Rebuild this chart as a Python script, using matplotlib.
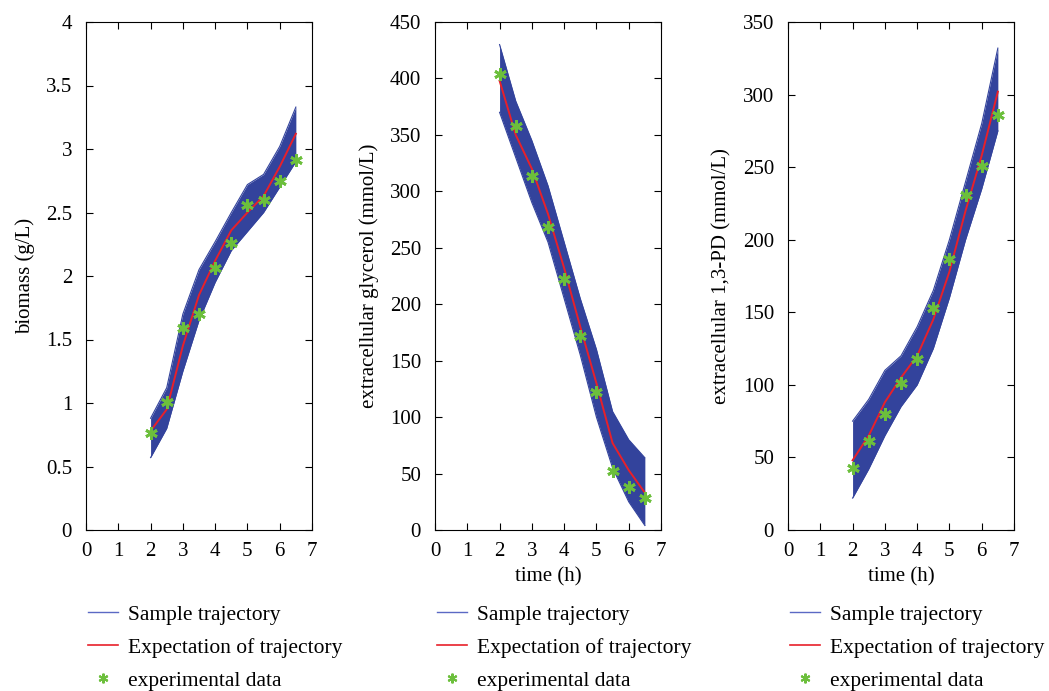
import numpy as np
import matplotlib
matplotlib.use("Agg")
import matplotlib.pyplot as plt
from matplotlib.lines import Line2D

plt.rcParams["font.family"] = ["Liberation Serif", "DejaVu Serif"]
plt.rcParams["font.size"] = 15

t = [2, 2.5, 3, 3.5, 4, 4.5, 5, 5.5, 6, 6.5]

# biomass (g/L)
bio_exp = [0.76, 1.01, 1.59, 1.70, 2.06, 2.26, 2.56, 2.60, 2.75, 2.91]
bio_mean = [0.78, 0.95, 1.45, 1.85, 2.12, 2.36, 2.50, 2.63, 2.86, 3.12]
bio_lo = [0.57, 0.80, 1.25, 1.65, 1.95, 2.20, 2.35, 2.50, 2.70, 2.90]
bio_hi = [0.88, 1.12, 1.70, 2.05, 2.27, 2.50, 2.72, 2.80, 3.02, 3.33]

# extracellular glycerol (mmol/L)
gly_exp = [404, 358, 314, 268, 222, 172, 122, 52, 38, 28]
gly_mean = [398, 350, 320, 280, 232, 180, 130, 77, 53, 33]
gly_lo = [370, 330, 290, 255, 205, 155, 100, 55, 25, 4]
gly_hi = [430, 380, 345, 305, 255, 205, 160, 105, 80, 64]

# extracellular 1,3-PD (mmol/L)
pd_exp = [43, 61, 80, 101, 118, 153, 187, 231, 251, 286]
pd_mean = [48, 65, 88, 105, 120, 145, 178, 220, 258, 302]
pd_lo = [22, 42, 65, 85, 100, 125, 160, 200, 235, 275]
pd_hi = [75, 90, 110, 120, 140, 165, 200, 240, 280, 332]

panels = [
    (bio_exp, bio_mean, bio_lo, bio_hi, "biomass (g/L)", (0, 4), np.arange(0, 4.01, 0.5), False),
    (gly_exp, gly_mean, gly_lo, gly_hi, "extracellular glycerol (mmol/L)", (0, 450), np.arange(0, 451, 50), True),
    (pd_exp, pd_mean, pd_lo, pd_hi, "extracellular 1,3-PD (mmol/L)", (0, 350), np.arange(0, 351, 50), True),
]

band_col = "#33439c"
red = "#e8202a"
green = "#6cbf3c"

fig = plt.figure(figsize=(10.49, 6.91), dpi=100)
lefts = [86, 435, 788]
for (exp_, mean, lo, hi, ylab, ylim, yt, xl), left in zip(panels, lefts):
    ax = fig.add_axes([left / 1049, 1 - 530 / 691, 226 / 1049, 508 / 691])
    ax.fill_between(t, lo, hi, color=band_col, lw=0)
    ax.plot(t, lo, color=band_col, lw=0.8)
    ax.plot(t, hi, color=band_col, lw=0.8)
    ax.plot(t, mean, color=red, lw=1.4)
    ax.plot(t, exp_, ls="none", marker=(6, 2, 0), ms=9, mew=2, color=green)
    ax.set_xlim(0, 7)
    ax.set_ylim(*ylim)
    ax.set_xticks(range(8))
    ax.set_yticks(yt)
    ax.set_yticklabels([f"{v:g}" for v in yt])
    ax.tick_params(direction="in", top=True, right=True, length=5)
    ax.tick_params(axis="x", pad=9)
    ax.tick_params(axis="y", pad=10)
    ax.set_ylabel(ylab, labelpad=8)
    if xl:
        ax.set_xlabel("time (h)", labelpad=4)
    handles = [
        Line2D([], [], color="#5b69c4", lw=1),
        Line2D([], [], color=red, lw=1.2),
        Line2D([], [], ls="none", marker=(6, 2, 0), ms=7, mew=1.5, color=green),
    ]
    labels = ["Sample trajectory", "Expectation of trajectory", "experimental data"]
    ax.legend(handles, labels, loc="upper left", bbox_to_anchor=(-0.03, -0.13),
              frameon=False, handlelength=1.4, labelspacing=0.6, fontsize=15.5,
              borderaxespad=0, handletextpad=0.45)

fig.savefig("out.png", dpi=100)
